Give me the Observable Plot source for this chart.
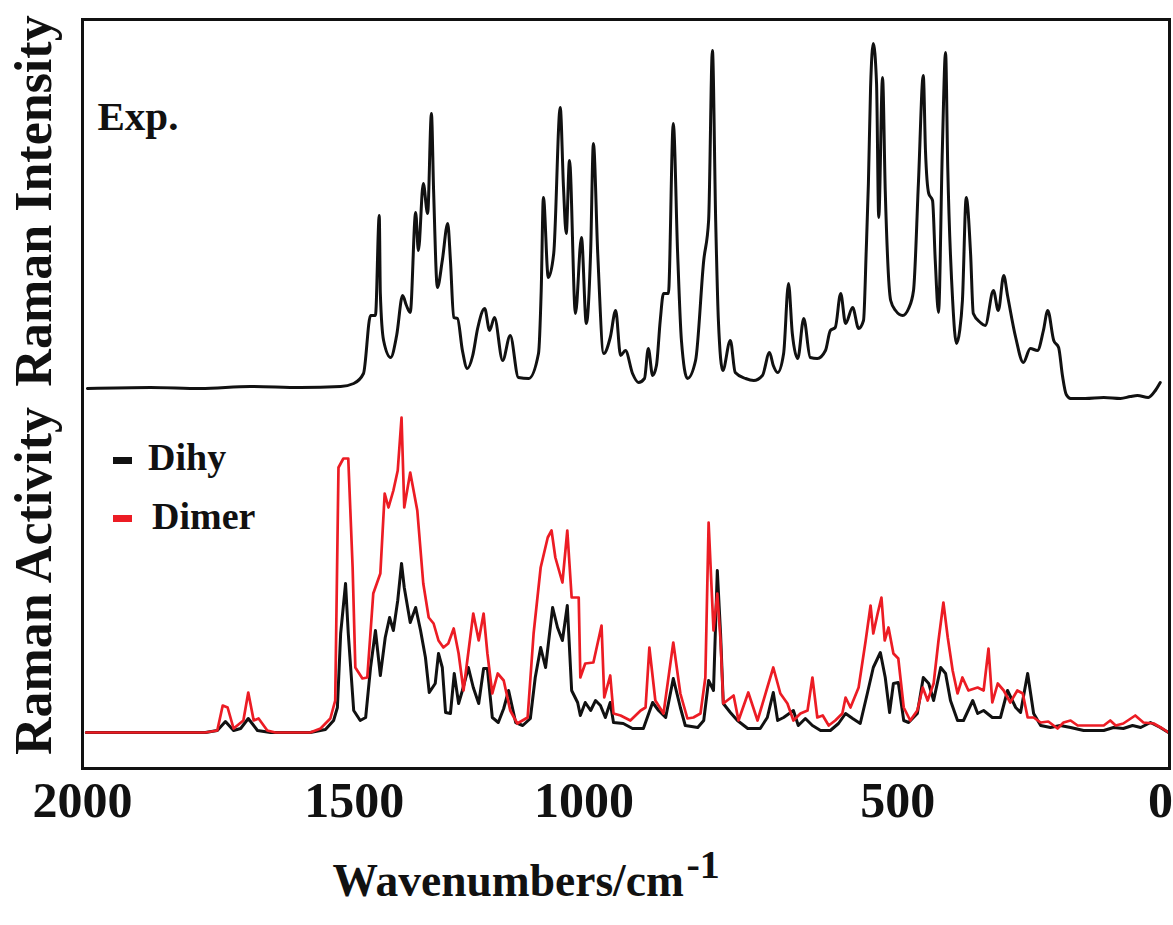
<!DOCTYPE html>
<html><head><meta charset="utf-8">
<script src="https://cdn.jsdelivr.net/npm/d3@7"></script>
<script src="https://cdn.jsdelivr.net/npm/@observablehq/plot@0.6"></script>
<style>
body{margin:0;background:#fff;}
#wrap{position:relative;width:1173px;height:925px;font-family:"Liberation Serif","Times New Roman",serif;}
.leg{position:absolute;font-weight:bold;font-size:38px;line-height:38px;color:#111;white-space:nowrap;}
.sw{position:absolute;width:19px;height:7px;}
</style></head><body><div id="wrap"></div>
<script>
// x ticks
const xTicks = [2000, 1500, 1000, 500, 0];

// Experimental Raman spectrum (wavenumber, intensity a.u. above its baseline)
const expWn = [1991,1875,1783,1691,1599,1525,1501,1483,1470,1461,
1454,1452,1446,1433,1422,1411,1404,1397,1387,1382,
1373,1365,1358,1354,1347,1338,1328,1323,1317,1310,
1301,1292,1282,1273,1260,1251,1242,1227,1213,1198,
1179,1161,1156,1152,1143,1133,1121,1115,1110,1104,
1093,1082,1073,1065,1060,1052,1041,1029,1019,1010,
1001,988,977,966,959,951,944,937,931,922,
913,905,898,887,872,857,848,841,835,830,
822,808,799,780,765,749,736,729,721,710,
701,694,684,673,661,648,633,624,615,605,
596,583,572,563,558,554,550,545,539,535,
528,523,513,504,491,480,471,462,453,449,
443,436,431,425,418,412,408,399,392,386,
381,374,366,361,348,339,324,315,305,298,
283,269,256,243,232,224,213,204,197,190,
182,155,121,90,72,59,39,26,17];
const expInt = [0,1,0,2,1,2,5,15,73,73,
173,95,48,31,53,93,83,76,176,138,
205,175,275,198,101,128,165,128,71,70,
38,20,33,60,80,58,71,28,53,11,
10,35,98,191,111,135,281,201,155,228,
75,151,65,138,245,135,35,51,78,33,
38,15,6,10,40,13,23,68,95,95,
265,135,48,10,28,128,168,338,168,68,
18,48,16,10,8,13,36,23,16,35,
105,55,30,70,31,30,38,58,61,95,
65,81,60,68,138,205,301,345,305,171,
311,198,88,78,73,80,98,205,313,238,
195,188,128,76,238,336,221,88,45,58,
88,191,135,75,66,63,98,78,113,93,
51,26,40,38,58,78,48,41,13,-6,
-10,-10,-9,-10,-8,-7,-9,-2,6];

// Calculated Raman activity: Dimer (red)
const dimerWn = [1993,1774,1752,1742,1733,1722,1704,1695,1685,1676,
1660,1645,1581,1562,1544,1535,1529,1520,1511,1503,
1498,1485,1476,1465,1452,1444,1437,1428,1420,1413,
1408,1397,1384,1373,1363,1354,1345,1336,1327,1317,
1308,1299,1281,1271,1262,1255,1246,1236,1225,1213,
1200,1181,1170,1157,1144,1137,1130,1117,1108,1100,
1087,1084,1075,1060,1045,1040,1029,1023,1010,992,
973,964,957,946,931,913,900,887,876,863,
854,848,839,832,826,821,802,793,775,758,
740,729,716,703,692,679,666,657,648,638,
627,615,602,596,587,572,559,550,545,537,
530,524,517,508,499,489,477,464,454,445,
434,425,416,408,399,390,381,370,353,342,
333,326,316,305,293,280,270,261,250,237,
223,206,195,182,169,145,121,109,99,85,
63,48,29,13,2];
const dimerInt = [0,0,2,27,25,4,12,40,12,14,
2,0,0,4,14,32,265,274,274,165,
65,54,55,139,159,239,225,242,262,315,
225,260,222,149,115,109,92,85,89,104,
79,42,119,92,119,79,39,59,52,22,
9,15,99,165,195,202,175,150,202,135,
135,55,69,70,107,35,57,19,17,12,
22,25,85,32,19,90,39,14,15,19,
55,210,102,139,92,29,37,12,40,12,
45,65,39,29,12,19,22,55,15,17,
7,12,19,35,25,45,92,127,99,119,
135,92,105,79,74,25,12,22,45,32,
49,92,130,95,62,39,55,42,45,42,
84,30,49,42,30,42,39,15,15,10,
11,4,10,12,7,7,7,12,7,9,
17,10,9,4,0];

// Calculated Raman activity: Dihy (black)
const dihyWn = [1993,1774,1752,1737,1722,1709,1695,1678,1654,1581,
1553,1538,1531,1525,1516,1511,1501,1489,1479,1470,
1461,1452,1443,1435,1428,1420,1413,1408,1397,1387,
1378,1369,1362,1351,1345,1338,1332,1323,1316,1308,
1301,1290,1281,1271,1262,1255,1246,1235,1225,1216,
1203,1190,1176,1167,1157,1148,1135,1126,1117,1108,
1100,1089,1084,1075,1065,1056,1047,1038,1029,1023,
1005,988,968,951,940,927,913,900,891,868,
857,848,839,832,826,821,808,795,776,753,
740,729,721,710,697,692,683,670,657,642,
624,609,596,583,569,556,545,532,523,515,
508,499,489,480,464,453,443,434,421,412,
403,390,379,362,353,342,326,311,298,283,
274,261,250,237,219,201,182,158,121,103,
85,68,53,35,17,2];
const dihyInt = [0,0,2,11,2,4,14,2,0,0,
3,12,25,99,149,99,22,12,15,65,
102,57,95,115,102,132,169,145,110,125,
102,75,40,49,79,65,20,19,59,29,
42,65,45,29,64,64,15,10,24,42,
10,7,14,55,85,65,125,105,92,127,
42,30,17,30,22,32,27,15,30,10,
9,4,4,30,22,15,54,25,7,5,
12,52,42,162,99,29,20,12,4,4,
15,40,12,15,20,22,7,14,7,2,
2,9,19,14,9,39,65,80,55,20,
49,50,12,10,19,55,49,32,65,59,
32,12,12,32,19,22,15,15,42,25,
20,59,19,7,5,7,5,2,2,5,
4,7,5,10,5,0];

// vertical stacking offsets of the two panels (a.u.)
const expOffset = 380, calcOffset = 36;

const expData = expWn.map((w, i) => ({wn: w, v: expInt[i] + expOffset}));
const dimerData = dimerWn.map((w, i) => ({wn: w, v: dimerInt[i] + calcOffset}));
const dihyData = dihyWn.map((w, i) => ({wn: w, v: dihyInt[i] + calcOffset}));

const RED = "#ec1c24";
const axisOpts = {tickSize: 0, tickPadding: 13, fontSize: 50, label: null, tickFormat: d => String(d)};

const chart = Plot.plot({
  width: 1173, height: 925,
  marginLeft: 82, marginRight: 4, marginTop: 19, marginBottom: 157,
  style: {fontFamily: "'Liberation Serif','Times New Roman',serif", fontWeight: "bold", background: "#fff", color: "#111"},
  x: {domain: [2000, 0]},
  y: {domain: [0, 749], axis: null},
  marks: [
    Plot.line(expData, {x: "wn", y: "v", stroke: "#111", strokeWidth: 3, curve: "monotone-x"}),
    Plot.line(dihyData, {x: "wn", y: "v", stroke: "#111", strokeWidth: 3}),
    Plot.line(dimerData, {x: "wn", y: "v", stroke: RED, strokeWidth: 2.7}),
    Plot.frame({stroke: "#111", strokeWidth: 3}),
    Plot.axisX([xTicks[0], xTicks[1], xTicks[3]], axisOpts),
    Plot.axisX([xTicks[2]], {...axisOpts, dx: -42}),
    Plot.axisX([xTicks[4]], {...axisOpts, dx: -9}),
    Plot.text(["Wavenumbers/cm"], {text: d => d, frameAnchor: "bottom-left", dx: 250, dy: 127, textAnchor: "start", lineAnchor: "bottom", fontSize: 45.5}),
    Plot.text(["-1"], {text: d => d, frameAnchor: "bottom-left", dx: 604, dy: 109, textAnchor: "start", lineAnchor: "bottom", fontSize: 40}),
    Plot.text(["Raman Intensity"], {text: d => d, frameAnchor: "left", rotate: -90, dx: -32, dy: -193, textAnchor: "middle", lineAnchor: "bottom", fontSize: 52}),
    Plot.text(["Raman Activity"], {text: d => d, frameAnchor: "left", rotate: -90, dx: -32, dy: 187, textAnchor: "middle", lineAnchor: "bottom", fontSize: 52}),
    Plot.text(["Exp."], {text: d => d, frameAnchor: "top-left", dx: 15, dy: 110, textAnchor: "start", lineAnchor: "bottom", fontSize: 41})
  ]
});

const wrap = document.getElementById("wrap");
wrap.appendChild(chart);

// legend (HTML, placed over the chart)
const legendItems = [
  {label: "Dihy", color: "#111", swTop: 457, textLeft: 148, textTop: 438},
  {label: "Dimer", color: RED, swTop: 515, textLeft: 152, textTop: 497}
];
for (const it of legendItems) {
  const sw = document.createElement("div");
  sw.className = "sw";
  sw.style.left = "113px";
  sw.style.top = it.swTop + "px";
  sw.style.background = it.color;
  wrap.appendChild(sw);
  const t = document.createElement("div");
  t.className = "leg";
  t.style.left = it.textLeft + "px";
  t.style.top = it.textTop + "px";
  t.textContent = it.label;
  wrap.appendChild(t);
}
</script>
</body></html>
